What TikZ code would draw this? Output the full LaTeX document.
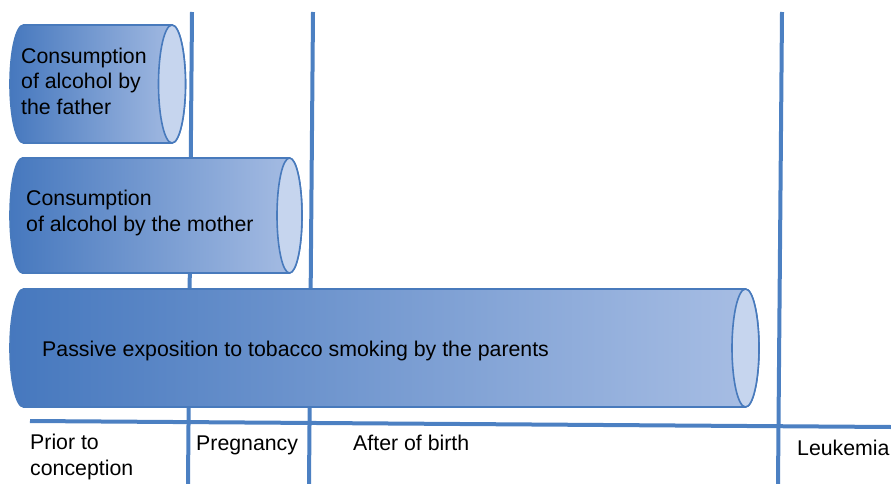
\documentclass[tikz,border=0pt]{standalone}
\usepackage{fontspec}
\setmainfont{Liberation Sans}
\definecolor{barDark}{RGB}{70,120,190}
\definecolor{barLight}{RGB}{168,190,228}
\definecolor{capFill}{RGB}{198,213,238}
\definecolor{edgeBlue}{RGB}{72,122,188}
\definecolor{lineBlue}{RGB}{76,128,194}
\tikzset{
  timeline/.style={draw=lineBlue, line width=4pt},
  barbody/.style={draw=edgeBlue, line width=1.6pt, left color=barDark, right color=barLight},
  barcap/.style={draw=edgeBlue, line width=1.6pt, fill=capFill},
  lbl/.style={anchor=base west, inner sep=0pt, align=left, font=\fontsize{21.3}{25.5}\selectfont},
}
% a horizontal cylinder: x0 = left edge, x1 = centre of the right cap,
% top and bottom edges, horizontal radius of the rounded ends
\newcommand\horizcyl[5]{%
  \pgfmathsetmacro\cylry{(#4-#3)/2}%
  \pgfmathsetmacro\cylmid{(#4+#3)/2}%
  \path[barbody] (#1+#5,#3) -- (#2,#3)
    arc[start angle=-90, end angle=90, x radius=#5, y radius=\cylry]
    -- (#1+#5,#4)
    arc[start angle=90, end angle=270, x radius=#5, y radius=\cylry] -- cycle;
  \path[barcap] (#2,\cylmid) ellipse[x radius=#5, y radius=\cylry];
}
\begin{document}
\begin{tikzpicture}[x=1pt, y=-1pt]
\useasboundingbox (0,0) rectangle (891,484);

% period boundaries and the time axis
\coordinate (vA1) at (192,12);  \coordinate (vA2) at (188,484);
\coordinate (vB1) at (313,12);  \coordinate (vB2) at (309,484);
\coordinate (vC1) at (782,12);  \coordinate (vC2) at (778,484);
\coordinate (ax1) at (30,421);  \coordinate (ax2) at (891,427);
\draw[timeline] (vA1) -- (vA2);
\draw[timeline] (vB1) -- (vB2);
\draw[timeline] (vC1) -- (vC2);
\draw[timeline] (ax1) -- (ax2);

% exposure bars
\horizcyl{10}{172}{25}{143}{13.5}
\horizcyl{10}{289.5}{158}{273}{12.5}
\horizcyl{10}{745.5}{289}{407}{13.5}

% multi-line labels are placed by the baseline of their last line
\node[lbl] (father) at (21,114) {Consumption\\of alcohol by\\the father};
\node[lbl] (mother) at (26,231) {Consumption\\of alcohol by the mother};
\node[lbl] (smoke) at (42,356) {Passive exposition to tobacco smoking by the parents};

\node[lbl] (prior) at (30,475) {Prior to\\conception};
\node[lbl] (preg) at (196,450) {Pregnancy};
\node[lbl] (after) at (353,450) {After of birth};
\node[lbl] (leuk) at (797,455) {Leukemia};
\end{tikzpicture}
\end{document}
